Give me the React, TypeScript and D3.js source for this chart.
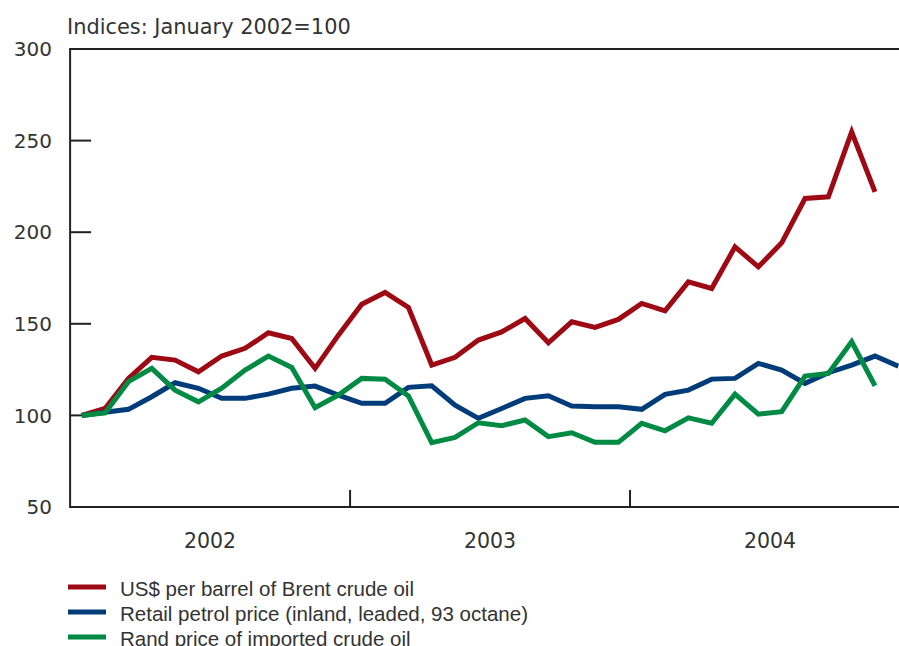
import React from "react";
import * as d3 from "d3";

const months: string[] = d3.range(36).map((i) => `${2002 + Math.floor(i / 12)}-${String((i % 12) + 1).padStart(2, "0")}`);

const brentUSD: number[] = [
  100, 103.8, 120.2, 131.7, 130.2, 123.8, 132.4, 136.6, 145.1, 142, 125.7, 143.8,
  160.7, 167.1, 159, 127.5, 131.7, 141.1, 145.6, 152.9, 139.6, 151.1, 148, 152.4,
  161.1, 157.1, 172.9, 169.3, 192, 181.1, 194.2, 218.4, 219.3, 254.7, 222,
];

const retailPetrol: number[] = [
  100, 101.7, 103.3, 110.2, 117.8, 114.8, 109.3, 109.3, 111.6, 114.8, 116, 111.1,
  106.6, 106.6, 115.3, 116.2, 105.6, 98.4, 103.8, 109.3, 110.7, 105.1, 104.7, 104.7,
  103.3, 111.5, 113.8, 119.8, 120.2, 128.4, 124.7, 117.5, 123.3, 127.5, 132.4, 126.9,
];

const randCrude: number[] = [
  100, 101.4, 118.4, 125.7, 113.8, 107.4, 114.8, 124.7, 132.4, 126.2, 104.2, 111.1,
  120.2, 119.7, 110.6, 85.1, 88, 96, 94.4, 97.5, 88.4, 90.5, 85.3, 85.3,
  95.7, 91.6, 98.7, 95.7, 111.6, 100.7, 102, 121.5, 122.9, 140.2, 116.2,
];

const yTicks: number[] = [50, 100, 150, 200, 250, 300];
const years: string[] = ["2002", "2003", "2004"];

const seriesNames: string[] = [
  "US$ per barrel of Brent crude oil",
  "Retail petrol price (inland, leaded, 93 octane)",
  "Rand price of imported crude oil",
];
const colors: string[] = ["#9e0a14", "#003c7a", "#008a44"];

const W = 899;
const H = 646;
const FONT = "'Liberation Sans', Arial, sans-serif";
const NUMFONT = "'DejaVu Sans', sans-serif";
const TXT = "#333";

export default function App() {
  const x = d3.scaleLinear().domain([-0.5, 35.5]).range([70.1, 910]);
  const y = d3.scaleLinear().domain([50, 300]).range([507, 49]);
  const left = x(-0.5);
  const line = d3
    .line<number>()
    .x((_, i) => x(i))
    .y((d) => y(d))
    .curve(d3.curveLinear);
  const data = [brentUSD, retailPetrol, randCrude];

  return (
    <svg
      width={W}
      height={H}
      style={{ position: "absolute", left: 0, top: 0, background: "#fff" }}
      fontFamily={FONT}
    >
      <text x={67} y={33.5} fontSize={20.9} fill={TXT} fontFamily={NUMFONT}>
        Indices: January 2002=100
      </text>
      {/* frame */}
      <line x1={left} x2={W} y1={y(300)} y2={y(300)} stroke="#222" strokeWidth={2} />
      <line x1={left} x2={W} y1={y(50)} y2={y(50)} stroke="#222" strokeWidth={2} />
      <line x1={left} x2={left} y1={y(300) - 1} y2={y(50) + 1} stroke="#222" strokeWidth={2} />
      {yTicks.map((t) => (
        <g key={t}>
          <line x1={left} x2={left + 21} y1={y(t)} y2={y(t)} stroke="#222" strokeWidth={2} />
          <text x={52} y={y(t)} dy="0.36em" textAnchor="end" fontSize={20} fill={TXT} fontFamily={NUMFONT}>
            {t}
          </text>
        </g>
      ))}
      {[11.5, 23.5].map((b) => (
        <line key={b} x1={x(b)} x2={x(b)} y1={y(50) - 17} y2={y(50)} stroke="#222" strokeWidth={2} />
      ))}
      {years.map((yr, k) => (
        <text key={yr} x={x(5.5 + 12 * k)} y={548} textAnchor="middle" fontSize={20.5} fill={TXT} fontFamily={NUMFONT}>
          {yr}
        </text>
      ))}
      {data.map((d, k) => (
        <path
          key={k}
          d={line(d) || ""}
          fill="none"
          stroke={colors[k]}
          strokeWidth={5}
          strokeLinejoin="miter"
          strokeMiterlimit={3}
        />
      ))}
      {seriesNames.map((n, k) => (
        <g key={n}>
          <line x1={68} x2={106} y1={587 + 25 * k} y2={587 + 25 * k} stroke={colors[k]} strokeWidth={5} />
          <text x={120} y={595.5 + 25 * k} fontSize={20.5} fill={TXT}>
            {n}
          </text>
        </g>
      ))}
    </svg>
  );
}
